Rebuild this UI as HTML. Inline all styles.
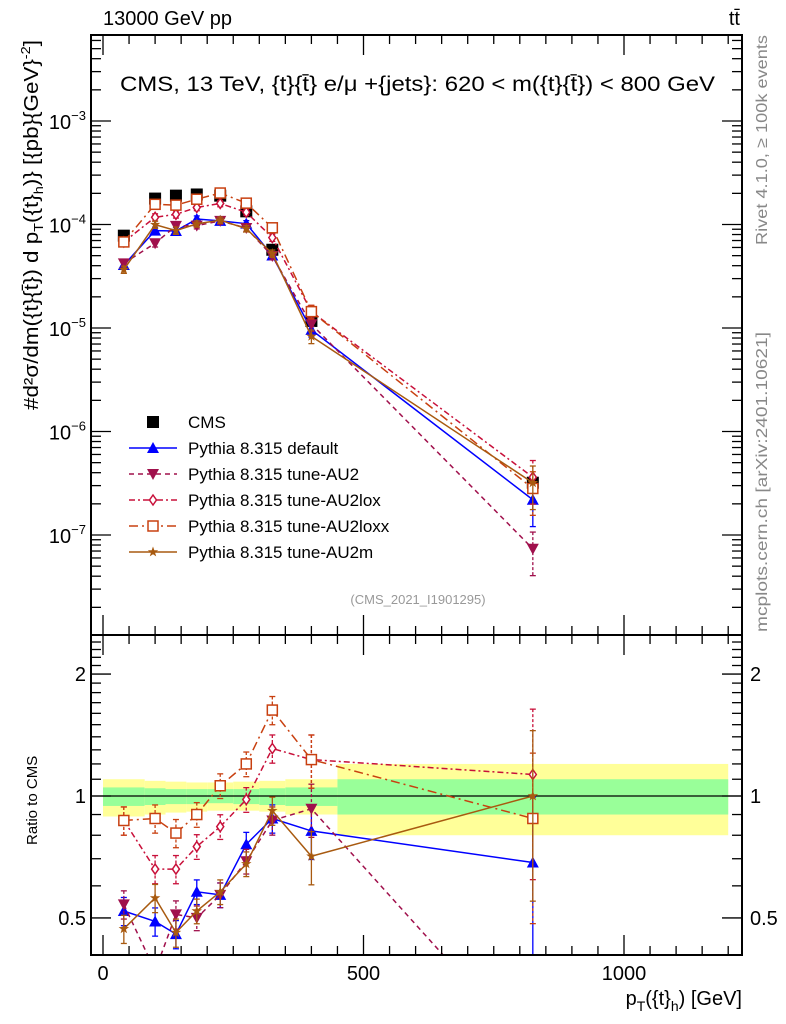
<!DOCTYPE html>
<html><head><meta charset="utf-8"><style>
html,body{margin:0;padding:0;background:#fff;overflow:hidden;width:786px;height:1024px;}
svg{display:block;font-family:"Liberation Sans",sans-serif;}
</style></head><body>
<svg id="c" width="786" height="1024" viewBox="0 0 786 1024" xmlns="http://www.w3.org/2000/svg">
<text x="103" y="25" font-size="20">13000 GeV pp</text>
<text x="740" y="25" font-size="20" text-anchor="end">tt̄</text>
<text x="120" y="91" font-size="21" textLength="595" lengthAdjust="spacingAndGlyphs">CMS, 13 TeV, {t}{t̄} e/μ +{jets}: 620 &lt; m({t}{t̄}) &lt; 800 GeV</text>
<text x="418" y="604" font-size="13" fill="#999" text-anchor="middle">(CMS_2021_I1901295)</text>
<text transform="translate(767,245) rotate(-90)" font-size="16" fill="#888" textLength="210" lengthAdjust="spacingAndGlyphs">Rivet 4.1.0, ≥ 100k events</text>
<text transform="translate(767,632) rotate(-90)" font-size="16" fill="#888" textLength="300" lengthAdjust="spacingAndGlyphs">mcplots.cern.ch [arXiv:2401.10621]</text>
<text transform="translate(38,410) rotate(-90)" font-size="20" textLength="370" lengthAdjust="spacingAndGlyphs">#d²σ/dm({t}{t̄}) d p<tspan font-size="13" dy="5">T</tspan><tspan dy="-5">({t}</tspan><tspan font-size="13" dy="5">h</tspan><tspan dy="-5">)} [{pb}{GeV}</tspan><tspan font-size="13" dy="-8">-2</tspan><tspan dy="8">]</tspan></text>
<text transform="translate(37,845) rotate(-90)" font-size="15">Ratio to CMS</text>
<text x="742" y="1005" font-size="20" text-anchor="end">p<tspan font-size="14" dy="6">T</tspan><tspan dy="-6">({t}</tspan><tspan font-size="14" dy="6">h</tspan><tspan dy="-6">) [GeV]</tspan></text>
<g id="g"></g>
</svg>
<script>
// ---- data ----
const binEdges=[0,80,120,160,200,250,300,350,450,1200];
const binCenters=[40,100,140,180,225,275,325,400,825];
const cmsValues=[7.8e-5,1.78e-4,1.9e-4,1.95e-4,1.9e-4,1.34e-4,5.7e-5,1.17e-5,3.2e-7];
const bandTotUp=[1.10,1.09,1.085,1.08,1.08,1.085,1.09,1.10,1.20];
const bandTotDn=[0.89,0.90,0.91,0.915,0.92,0.92,0.915,0.90,0.80];
const bandStatUp=[1.05,1.045,1.04,1.04,1.04,1.04,1.045,1.05,1.10];
const bandStatDn=[0.945,0.95,0.955,0.955,0.96,0.955,0.95,0.945,0.90];
const ratioDefault=[0.52,0.49,0.456,0.58,0.57,0.76,0.88,0.82,0.685];
const ratioAU2=[0.54,0.37,0.51,0.50,0.57,0.69,0.87,0.93,0.23];
const ratioAU2lox=[0.87,0.66,0.66,0.75,0.84,0.98,1.31,1.23,1.13];
const ratioAU2loxx=[0.87,0.88,0.81,0.90,1.06,1.20,1.63,1.23,0.88];
const ratioAU2m=[0.47,0.56,0.46,0.52,0.58,0.68,0.92,0.71,1.0];
const relErr=[0.08,0.08,0.08,0.07,0.07,0.07,0.08,0.15,0.45];
const xTicks=[0,500,1000];
const yMainTicks=[-7,-6,-5,-4,-3];
const yRatioTicks=[0.5,1,2];

// ---- geometry ----
const L=91,R=742,T=35,M=635,B=955;
const X=v=>103+v*0.521;
const Ym=v=>121-(Math.log10(v)+3)*103.5;
const Yr=v=>796-Math.log10(v)*405;
const NS="http://www.w3.org/2000/svg";
const g=document.getElementById('g');
function el(tag,attrs,parent){const e=document.createElementNS(NS,tag);for(const k in attrs)e.setAttribute(k,attrs[k]);(parent||g).appendChild(e);return e;}

const defs=el('defs',{});
const c1=el('clipPath',{id:'cm'},defs);el('rect',{x:L,y:T,width:R-L,height:M-T},c1);
const c2=el('clipPath',{id:'cr'},defs);el('rect',{x:L,y:M,width:R-L,height:B-M},c2);

const bandG=el('g',{'clip-path':'url(#cr)'});


for(let i=0;i<binCenters.length;i++){
  const x0=X(binEdges[i]),x1=X(binEdges[i+1]);
  const r1=el('rect',{x:x0,y:Yr(bandTotUp[i]),width:x1-x0,height:Yr(bandTotDn[i])-Yr(bandTotUp[i]),fill:'#ffff99'},bandG);
  
  
  const r2=el('rect',{x:x0,y:Yr(bandStatUp[i]),width:x1-x0,height:Yr(bandStatDn[i])-Yr(bandStatUp[i]),fill:'#99ff99'},bandG);
  
  
}
el('line',{x1:L,x2:R,y1:Yr(1),y2:Yr(1),stroke:'#000','stroke-width':1.3});

const series=[
 {name:'default',label:'Pythia 8.315 default',ratio:ratioDefault,color:'#0000ff',dash:'',mk:'tri'},
 {name:'au2',label:'Pythia 8.315 tune-AU2',ratio:ratioAU2,color:'#a0104c',dash:'5,4',mk:'itri'},
 {name:'au2lox',label:'Pythia 8.315 tune-AU2lox',ratio:ratioAU2lox,color:'#c8103a',dash:'6,3,2,3',mk:'dia'},
 {name:'au2loxx',label:'Pythia 8.315 tune-AU2loxx',ratio:ratioAU2loxx,color:'#c84010',dash:'9,4,2,4',mk:'sq'},
 {name:'au2m',label:'Pythia 8.315 tune-AU2m',ratio:ratioAU2m,color:'#a85a10',dash:'',mk:'star'}
];
function marker(p,x,y,s,col){
  let m;
  if(s==='tri')m=el('path',{d:`M${x-6},${y+5}L${x+6},${y+5}L${x},${y-6}Z`,fill:col},p);
  else if(s==='itri')m=el('path',{d:`M${x-6},${y-5}L${x+6},${y-5}L${x},${y+6}Z`,fill:col},p);
  else if(s==='dia')m=el('path',{d:`M${x},${y-5}L${x+3.5},${y}L${x},${y+5}L${x-3.5},${y}Z`,fill:'#fff',stroke:col,'stroke-width':1.5},p);
  else if(s==='sq')m=el('rect',{x:x-5,y:y-5,width:10,height:10,fill:'#fff',stroke:col,'stroke-width':1.5},p);
  else if(s==='star'){let d='';for(let k=0;k<10;k++){const a=-Math.PI/2+k*Math.PI/5,r=k%2?2.2:5.5;d+=(k?'L':'M')+(x+r*Math.cos(a)).toFixed(1)+','+(y+r*Math.sin(a)).toFixed(1);}m=el('path',{d:d+'Z',fill:col},p);}
  else m=el('rect',{x:x-6,y:y-6,width:12,height:12,fill:col},p);
  
  
}
function drawSeries(s,panel){
  const isMain=panel==='main';
  const Y=isMain?Ym:Yr;
  const p=el('g',{'clip-path':isMain?'url(#cm)':'url(#cr)'});
  
  
  const vals=s.ratio.map((r,i)=>isMain?r*cmsValues[i]:r);
  const pts=vals.map((v,i)=>X(binCenters[i])+','+Y(v)).join(' ');
  el('polyline',{points:pts,fill:'none',stroke:s.color,'stroke-width':1.5,'stroke-dasharray':s.dash},p);
  vals.forEach((v,i)=>{
    const x=X(binCenters[i]);
    const y1=Y(v*(1+relErr[i])),y2=Y(Math.max(v*(1-relErr[i]),1e-12));
    el('line',{x1:x,x2:x,y1:y1,y2:y2,stroke:s.color,'stroke-width':1.3,'stroke-dasharray':s.dash?'3,2':''},p);
    el('line',{x1:x-3,x2:x+3,y1:y1,y2:y1,stroke:s.color,'stroke-width':1.3},p);
    el('line',{x1:x-3,x2:x+3,y1:y2,y2:y2,stroke:s.color,'stroke-width':1.3},p);
    marker(p,x,Y(v),s.mk,s.color);
  });
}
const cg=el('g',{'clip-path':'url(#cm)'});


cmsValues.forEach((v,i)=>marker(cg,X(binCenters[i]),Ym(v),'cms','#000'));
series.forEach(s=>{drawSeries(s,'main');drawSeries(s,'ratio');});

el('rect',{x:L,y:T,width:R-L,height:M-T,fill:'none',stroke:'#000','stroke-width':2});
el('rect',{x:L,y:M,width:R-L,height:B-M,fill:'none',stroke:'#000','stroke-width':2});

for(let v=0;v<=1200;v+=50){
  const x=X(v),big=v%500===0,len=big?20:9;
  [T,M].forEach(y=>el('line',{x1:x,x2:x,y1:y,y2:y+len,stroke:'#000','stroke-width':1.3}));
  [M,B].forEach(y=>el('line',{x1:x,x2:x,y1:y,y2:y-len,stroke:'#000','stroke-width':1.3}));
}
xTicks.forEach(v=>{const t=el('text',{x:X(v),y:980,'font-size':20,'text-anchor':'middle'});t.textContent=v;
 
 });

for(let e=-8;e<=-2;e++){for(let k=1;k<10;k++){const v=k*Math.pow(10,e),y=Ym(v);if(y<T||y>M)continue;const len=k===1?20:10;
 el('line',{x1:L,x2:L+len,y1:y,y2:y,stroke:'#000','stroke-width':1.3});el('line',{x1:R,x2:R-len,y1:y,y2:y,stroke:'#000','stroke-width':1.3});}}
yMainTicks.forEach(e=>{const t=el('text',{x:86,y:Ym(Math.pow(10,e))+8,'font-size':20,'text-anchor':'end'});
 t.innerHTML='10<tspan font-size="13" dy="-9">−'+(-e)+'</tspan>';
 
 });
for(let v=0.4;v<=2.5;v+=0.1){const vv=v>=1?Math.round(v*10)/10:v;const y=Yr(vv);if(y<M||y>B)continue;
 const big=[0.5,1,2].some(t=>Math.abs(t-vv)<1e-6);const len=big?20:10;
 el('line',{x1:L,x2:L+len,y1:y,y2:y,stroke:'#000','stroke-width':1.3});el('line',{x1:R,x2:R-len,y1:y,y2:y,stroke:'#000','stroke-width':1.3});}
yRatioTicks.forEach(v=>{const y=Yr(v)+7;
 const a=el('text',{x:86,y:y,'font-size':20,'text-anchor':'end'});a.textContent=v;
 
 
 const b=el('text',{x:750,y:y,'font-size':20});b.textContent=v;
 
 });

const lg=el('g',{});


const ly=[422,448,474,500,526,552];
const ce=el('g',{},lg);


marker(ce,153,ly[0],'cms','#000');
const ct=el('text',{x:188,y:ly[0]+6,'font-size':17},ce);ct.textContent='CMS';
series.forEach((s,i)=>{
  const e=el('g',{},lg);
  
  
  const y=ly[i+1];
  el('line',{x1:129,x2:177,y1:y,y2:y,stroke:s.color,'stroke-width':1.5,'stroke-dasharray':s.dash},e);
  marker(e,153,y,s.mk,s.color);
  const t=el('text',{x:188,y:y+6,'font-size':17},e);t.textContent=s.label;
});
</script>
</body></html>
